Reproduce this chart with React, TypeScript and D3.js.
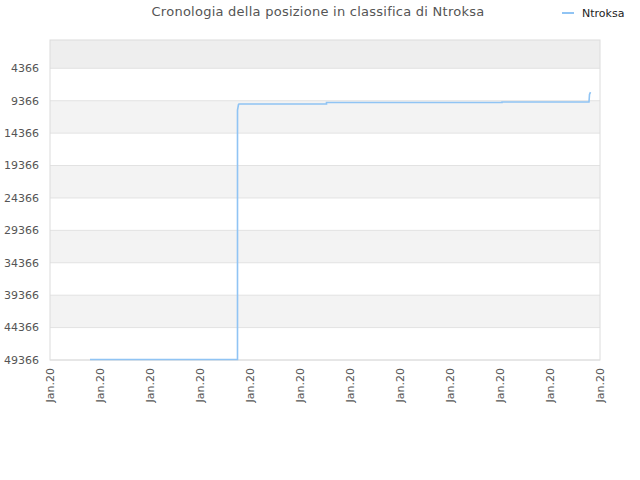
import React from "react";
import * as d3 from "d3";

const title = "Cronologia della posizione in classifica di Ntroksa";
const seriesName = "Ntroksa";
const yTicks = [4366, 9366, 14366, 19366, 24366, 29366, 34366, 39366, 44366, 49366];
const yDomain = [1, 49366];
// days since 2020-01-01
const pointDays = [1.6, 7.5, 7.5, 7.54, 7.56, 11.06, 11.06, 18.08, 18.08, 21.56, 21.58, 21.62];
const pointValues = [49300, 49300, 10800, 9950, 9880, 9876, 9650, 9650, 9560, 9560, 8400, 8050];
const xTickCount = 12;

const W = 640, H = 480;
const m = { left: 50, right: 600, top: 40, bottom: 360 };
const start = new Date(2020, 0, 1);
const dayMs = 86400000;

export default function App() {
  const x = d3.scaleTime().domain([start, new Date(start.getTime() + 22 * dayMs)]).range([m.left, m.right]);
  const y = d3.scaleLinear().domain(yDomain).range([m.top, m.bottom]);
  const fmt = d3.timeFormat("%b.%y");
  const xTicks = d3.range(xTickCount).map((i) => new Date(start.getTime() + i * 2 * dayMs));
  const data = pointDays.map((d, i) => ({ t: new Date(start.getTime() + d * dayMs), v: pointValues[i] }));
  const line = d3.line<{ t: Date; v: number }>().x((d) => x(d.t)).y((d) => y(d.v));
  const bandEdges = [yDomain[0], ...yTicks];
  const bands = bandEdges.slice(0, -1).map((a, i) => ({ a, b: bandEdges[i + 1], i }));
  const font = "DejaVu Sans, sans-serif";
  return (
    <svg width={W} height={H} style={{ position: "absolute", left: 0, top: 0, background: "#fff" }} fontFamily={font}>
      {bands.map((bd) =>
        bd.i % 2 === 0 ? (
          <rect key={bd.i} x={m.left} y={y(bd.a)} width={m.right - m.left} height={y(bd.b) - y(bd.a)} fill={bd.i === 0 ? "#eeeeee" : "#f3f3f3"} />
        ) : null
      )}
      {yTicks.map((t) => (
        <line key={t} x1={m.left} x2={m.right} y1={y(t)} y2={y(t)} stroke="#e2e2e2" strokeWidth={1} />
      ))}
      <rect x={m.left} y={m.top} width={m.right - m.left} height={m.bottom - m.top} fill="none" stroke="#dcdcdc" strokeWidth={1} />
      {yTicks.map((t) => (
        <text key={t} x={m.left - 11} y={y(t)} dy="0.35em" textAnchor="end" fontSize={11} fill="#555">
          {t}
        </text>
      ))}
      {xTicks.map((t, i) => (
        <text key={i} transform={`translate(${x(t)},${m.bottom + 8}) rotate(-90)`} dy="0.35em" textAnchor="end" fontSize={11} fill="#555">
          {fmt(t)}
        </text>
      ))}
      <path d={line(data) || ""} fill="none" stroke="#90c4f4" strokeWidth={1.6} />
      <text x={318} y={16} textAnchor="middle" fontSize={13} fill="#555" letterSpacing={0.25}>
        {title}
      </text>
      <line x1={562} x2={574} y1={13} y2={13} stroke="#90c4f4" strokeWidth={2} />
      <text x={582} y={13} dy="0.35em" fontSize={11} fill="#222">
        {seriesName}
      </text>
    </svg>
  );
}
